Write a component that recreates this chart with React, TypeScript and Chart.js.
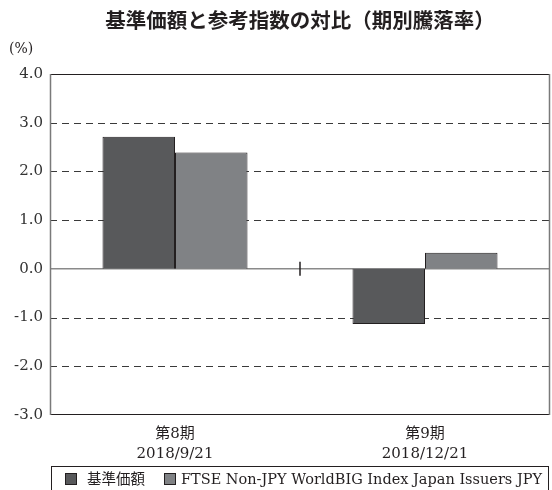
import React, { useEffect, useRef } from "react";
import { Chart, registerables } from "chart.js";

Chart.register(...registerables);

const TITLE = "基準価額と参考指数の対比（期別騰落率）";
const UNIT_LABEL = "(%)";
const categories = [
  ["第8期", "2018/9/21"],
  ["第9期", "2018/12/21"],
];
const seriesNames = ["基準価額", "FTSE Non-JPY WorldBIG Index Japan Issuers JPY"];
const fundValues = [2.71, -1.13];
const indexValues = [2.39, 0.33];
const yMin = -3;
const yMax = 4;
const yStep = 1;

const SERIF = '"DejaVu Serif", "Noto Sans CJK JP", serif';
const SANS = '"Noto Sans CJK JP", sans-serif';
const COLORS = ["#58595b", "#808285"];
const DARK = "#231f20";

const decorPlugin = {
  id: "decor",
  beforeDraw(chart: any) {
    const { ctx } = chart;
    ctx.save();
    ctx.fillStyle = "#ffffff";
    ctx.fillRect(0, 0, chart.width, chart.height);
    ctx.restore();
  },
  beforeDatasetsDraw(chart: any) {
    const { ctx, chartArea } = chart;
    const y = chart.scales.y;
    ctx.save();
    ctx.strokeStyle = "#3a3a3a";
    ctx.lineWidth = 1;
    ctx.setLineDash([7, 5]);
    y.ticks.forEach((t: any) => {
      if (t.value === yMin || t.value === yMax || t.value === 0) return;
      const py = Math.round(y.getPixelForValue(t.value)) + 0.5;
      ctx.beginPath();
      ctx.moveTo(chartArea.left, py);
      ctx.lineTo(chartArea.right, py);
      ctx.stroke();
    });
    ctx.setLineDash([]);
    const zy = y.getPixelForValue(0);
    ctx.strokeStyle = "#8a8a8a";
    ctx.lineWidth = 1.5;
    ctx.beginPath();
    ctx.moveTo(chartArea.left, zy);
    ctx.lineTo(chartArea.right, zy);
    ctx.stroke();
    ctx.lineWidth = 1;
    ctx.strokeStyle = DARK;
    ctx.beginPath();
    ctx.moveTo(chartArea.left, chartArea.top + 0.5);
    ctx.lineTo(chartArea.right, chartArea.top + 0.5);
    ctx.moveTo(chartArea.left, chartArea.bottom - 0.5);
    ctx.lineTo(chartArea.right, chartArea.bottom - 0.5);
    ctx.stroke();
    ctx.strokeStyle = "#7a7a7a";
    ctx.lineWidth = 1.5;
    ctx.beginPath();
    ctx.moveTo(chartArea.left + 0.5, chartArea.top);
    ctx.lineTo(chartArea.left + 0.5, chartArea.bottom);
    ctx.moveTo(chartArea.right - 0.5, chartArea.top);
    ctx.lineTo(chartArea.right - 0.5, chartArea.bottom);
    ctx.stroke();
    ctx.restore();
  },
  afterDatasetsDraw(chart: any) {
    const { ctx } = chart;
    const x = chart.scales.x;
    const y = chart.scales.y;
    const mid = (x.getPixelForValue(0) + x.getPixelForValue(1)) / 2;
    const zy = y.getPixelForValue(0);
    ctx.save();
    ctx.strokeStyle = DARK;
    ctx.lineWidth = 1.5;
    ctx.beginPath();
    ctx.moveTo(mid, zy - 7);
    ctx.lineTo(mid, zy + 7);
    ctx.stroke();
    ctx.restore();
  },
  afterDraw(chart: any) {
    const { ctx, chartArea } = chart;
    ctx.save();
    ctx.fillStyle = DARK;
    ctx.font = `bold 20.5px ${SANS}`;
    ctx.textAlign = "center";
    ctx.textBaseline = "middle";
    ctx.fillText(TITLE, (chartArea.left + chartArea.right) / 2, 20);
    ctx.font = `14px ${SERIF}`;
    ctx.textAlign = "left";
    ctx.fillText(UNIT_LABEL, 9, 49);
    const top = 466;
    ctx.strokeStyle = DARK;
    ctx.lineWidth = 1;
    ctx.strokeRect(51.5, top + 0.5, 497, 60);
    const items = [
      { box: 65, text: 87 },
      { box: 164, text: 181 },
    ];
    ctx.font = `14.5px ${SERIF}`;
    ctx.textBaseline = "middle";
    items.forEach((it, i) => {
      ctx.fillStyle = COLORS[i];
      ctx.fillRect(it.box, top + 7, 12, 12);
      ctx.strokeStyle = DARK;
      ctx.strokeRect(it.box + 0.5, top + 7.5, 11, 11);
      ctx.fillStyle = DARK;
      ctx.fillText(seriesNames[i], it.text, top + 14);
    });
    ctx.restore();
  },
};

export default function App() {
  const ref = useRef<HTMLCanvasElement | null>(null);
  useEffect(() => {
    if (!ref.current) return;
    const chart = new Chart(ref.current, {
      type: "bar",
      data: {
        labels: categories,
        datasets: [
          {
            label: seriesNames[0],
            data: fundValues,
            backgroundColor: COLORS[0],
            borderColor: DARK,
            borderWidth: 1,
            categoryPercentage: 0.58,
            barPercentage: 1,
          },
          {
            label: seriesNames[1],
            data: indexValues,
            backgroundColor: COLORS[1],
            borderColor: DARK,
            borderWidth: 1,
            categoryPercentage: 0.58,
            barPercentage: 1,
          },
        ],
      },
      options: {
        responsive: false,
        animation: false,
        devicePixelRatio: 1,
        layout: { padding: { top: 74, right: 2, bottom: 25, left: 0 } },
        plugins: {
          legend: { display: false },
          title: { display: false },
          tooltip: { enabled: false },
        },
        scales: {
          x: {
            grid: { display: false },
            border: { display: false },
            ticks: {
              font: { family: SERIF, size: 15, lineHeight: 1.35 },
              color: DARK,
              padding: 1,
              maxRotation: 0,
              autoSkip: false,
            },
            afterFit: (s: any) => {
              s.height = 50;
            },
          },
          y: {
            min: yMin,
            max: yMax,
            grid: { display: false, drawTicks: false },
            border: { display: false },
            ticks: {
              stepSize: yStep,
              callback: (v: any) => Number(v).toFixed(1),
              font: { family: SERIF, size: 15 },
              color: "#333333",
              padding: 7,
            },
            afterFit: (s: any) => {
              s.width = 50;
            },
          },
        },
      },
      plugins: [decorPlugin],
    });
    return () => chart.destroy();
  }, []);
  return (
    <canvas
      ref={ref}
      width={552}
      height={490}
      style={{ position: "absolute", left: 0, top: 0, display: "block" }}
    />
  );
}
